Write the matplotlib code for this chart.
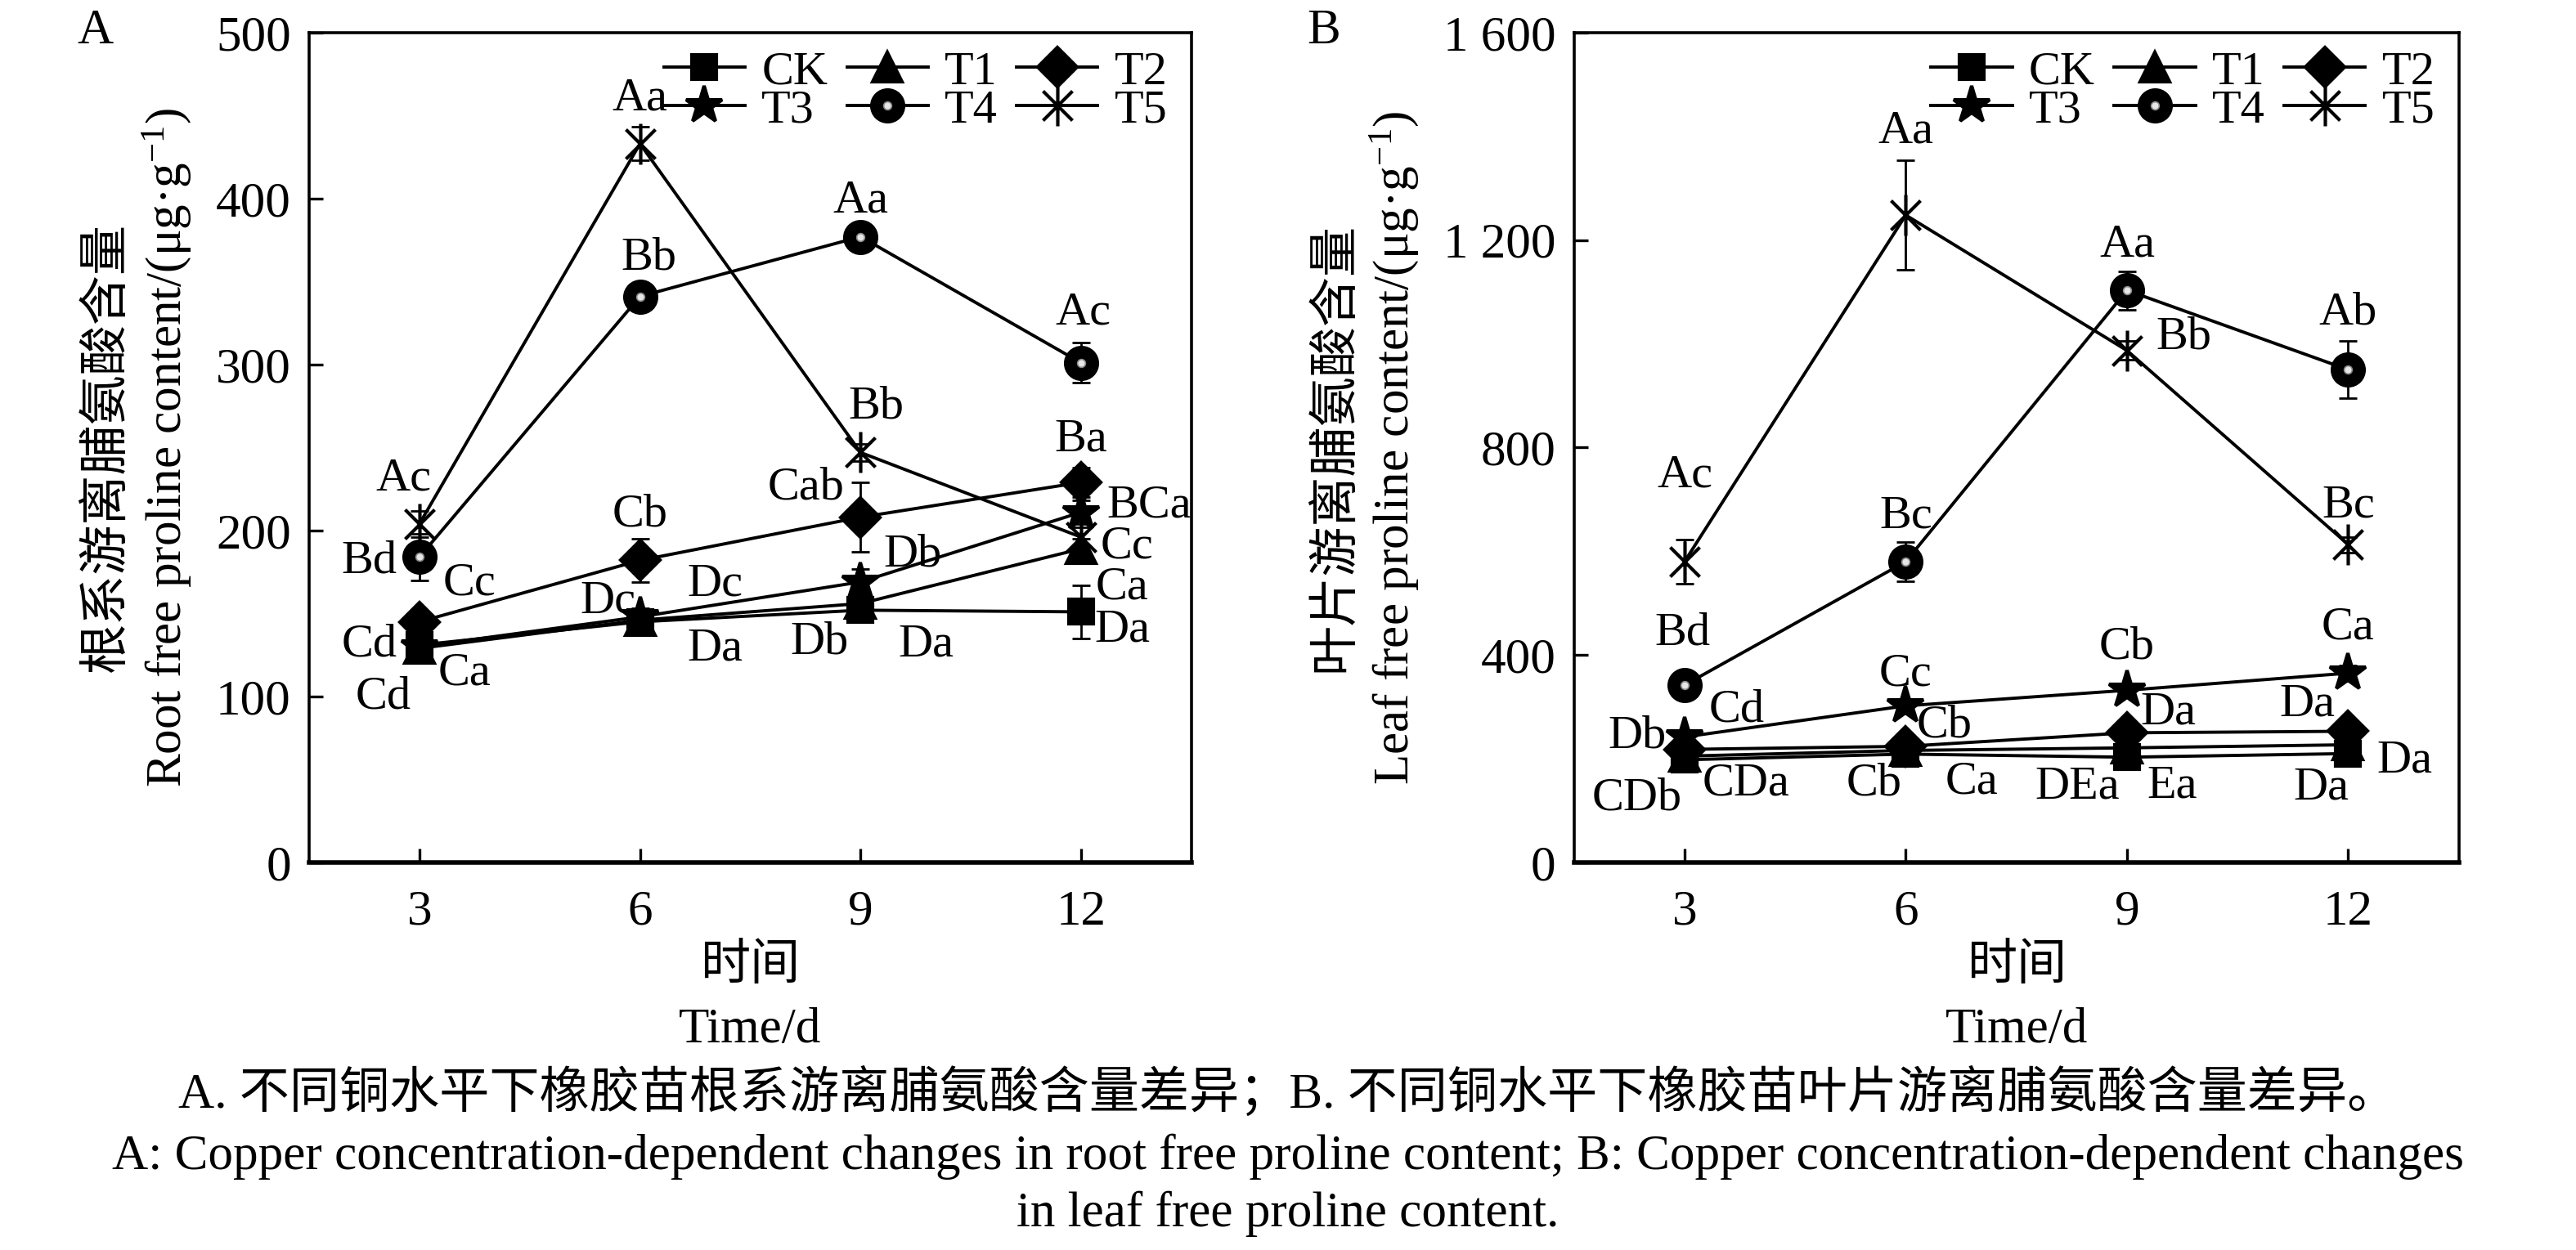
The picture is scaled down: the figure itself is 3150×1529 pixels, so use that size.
import matplotlib
matplotlib.use("Agg")
import matplotlib.pyplot as plt
from matplotlib.ticker import FuncFormatter
from matplotlib.path import Path

plt.rcParams['font.family'] = ['Liberation Serif', 'Noto Sans CJK SC']
plt.rcParams['mathtext.fontset'] = 'custom'
plt.rcParams['mathtext.rm'] = 'Liberation Serif'
plt.rcParams['mathtext.it'] = 'Liberation Serif:italic'
plt.rcParams['axes.unicode_minus'] = False

# data
days = [3, 6, 9, 12]
series = ['CK', 'T1', 'T2', 'T3', 'T4', 'T5']

# A: root free proline (ug/g)
root_ck = [131, 145, 152, 151]
root_t1 = [129, 146, 156, 189]
root_t2 = [145, 182, 208, 229]
root_t3 = [130, 148, 169, 211]
root_t4 = [184, 341, 377, 301]
root_t5 = [204, 433, 247, 196]
root_err_ck = [6, 4, 5, 16]
root_err_t1 = [5, 4, 5, 6]
root_err_t2 = [6, 13, 21, 9]
root_err_t3 = [5, 5, 8, 7]
root_err_t4 = [14, 5, 4, 12]
root_err_t5 = [8, 10, 5, 6]
root_sig_ck = ['Cd', 'Da', 'Db', 'Da']
root_sig_t1 = ['Ca', 'Dc', 'Da', 'Ca']
root_sig_t2 = ['Cc', 'Cb', 'Cab', 'Ba']
root_sig_t3 = ['Cd', 'Dc', 'Db', 'BCa']
root_sig_t4 = ['Bd', 'Bb', 'Aa', 'Ac']
root_sig_t5 = ['Ac', 'Aa', 'Bb', 'Cc']

# B: leaf free proline (ug/g)
leaf_ck = [198, 209, 203, 210]
leaf_t1 = [205, 216, 221, 227]
leaf_t2 = [218, 224, 250, 253]
leaf_t3 = [242, 302, 332, 365]
leaf_t4 = [342, 580, 1103, 950]
leaf_t5 = [580, 1248, 987, 613]
leaf_err_ck = [8, 8, 8, 8]
leaf_err_t1 = [8, 8, 8, 8]
leaf_err_t2 = [10, 10, 12, 12]
leaf_err_t3 = [12, 12, 12, 15]
leaf_err_t4 = [10, 38, 37, 55]
leaf_err_t5 = [42, 105, 18, 15]
leaf_sig_ck = ['CDb', 'Cb', 'DEa', 'Da']
leaf_sig_t1 = ['CDa', 'Ca', 'Ea', 'Da']
leaf_sig_t2 = ['Db', 'Cb', 'Da', 'Da']
leaf_sig_t3 = ['Cd', 'Cc', 'Cb', 'Ca']
leaf_sig_t4 = ['Bd', 'Bc', 'Aa', 'Ab']
leaf_sig_t5 = ['Ac', 'Aa', 'Bb', 'Bc']

# label offsets in points (style)
root_off = {
    'CK': [(-16, -23), (33, -12), (-18, -14), (18, -8)],
    'T1': [(20, -11), (33, 16), (29, -18), (18, -17)],
    'T2': [(22, 17), (0, 20), (-24, 13), (0, 19)],
    'T3': [(-22, 1), (-14, 7), (23, 12), (30, 3)],
    'T4': [(-22, -2), (4, 17), (0, 16), (1, 22)],
    'T5': [(-7, 20), (0, 20), (7, 20), (20, -4)],
}
leaf_off = {
    'CK': [(-21, -17), (-14, -13), (-22, -13), (-12, -15)],
    'T1': [(27, -12), (29, -14), (20, -17), (25, -7)],
    'T2': [(-21, 6), (17, 9), (18, 9), (-18, 12)],
    'T3': [(23, 12), (0, 14), (0, 19), (0, 20)],
    'T4': [(-1, 23), (0, 20), (0, 20), (0, 25)],
    'T5': [(0, 38), (0, 37), (25, 6), (0, 17)],
}

# asterisk: vertical stroke plus two diagonals
star6 = Path([(0, -1), (0, 1), (-0.72, -0.72), (0.72, 0.72), (-0.72, 0.72), (0.72, -0.72)],
             [Path.MOVETO, Path.LINETO] * 3)

markers = {'CK': ('s', 11), 'T1': ('^', 13), 'T2': ('D', 12),
           'T3': ('*', 17), 'T4': ('o', 14), 'T5': (star6, 18)}

FS_TICK = 22
FS_SIG = 21
FS_LAB = 22
FS_LEG = 21
FS_CAP = 22


def draw_panel(ax, vals, errs, sigs, offs, ymax, yticks, ylabel_cn, ylabel_en, fmt):
    handles = {}
    for name in series:
        m, ms = markers[name]
        ax.errorbar(days, vals[name], yerr=errs[name], fmt='none', ecolor='black',
                    elinewidth=1.0, capsize=4, capthick=1.0, zorder=2)
        ln, = ax.plot(days, vals[name], color='black', lw=1.4, marker=m, ms=ms,
                      mfc='black', mec='black', mew=1.5, zorder=3)
        if name == 'T4':
            hl, = ax.plot(days, vals[name], ls='none', marker='o', ms=3.5,
                          mfc='0.9', mec='0.55', mew=0.6, zorder=4)
            handles[name] = (ln, hl)
        else:
            handles[name] = ln
        for i, s in enumerate(sigs[name]):
            ax.annotate(s, (days[i], vals[name][i]), xytext=offs[name][i],
                        textcoords='offset points', ha='center', va='center',
                        fontsize=FS_SIG, zorder=5)
    ax.set_xlim(1.5, 13.5)
    ax.set_ylim(0, ymax)
    ax.set_xticks(days)
    ax.set_yticks(yticks)
    ax.yaxis.set_major_formatter(FuncFormatter(fmt))
    ax.tick_params(direction='in', length=6, width=1.2, labelsize=FS_TICK, pad=8,
                   top=False, right=False)
    ax.tick_params(axis='x', pad=12)
    for sp in ax.spines.values():
        sp.set_linewidth(1.3)
    ax.spines['bottom'].set_linewidth(2.0)
    ax.set_xlabel('时间\nTime/d', fontsize=FS_LAB, linespacing=1.5, labelpad=4)
    ax.set_ylabel(ylabel_cn + '\n' + ylabel_en, fontsize=FS_LAB, linespacing=1.25, labelpad=10)
    order = ['CK', 'T3', 'T1', 'T4', 'T2', 'T5']
    ax.legend([handles[k] for k in order], order, loc='upper right', ncol=3,
              frameon=False, fontsize=FS_LEG, handlelength=1.7, handletextpad=0.35,
              columnspacing=0.4, labelspacing=-0.1, borderaxespad=0.1,
              bbox_to_anchor=(1.0, 1.007))


fig = plt.figure(figsize=(15.75, 7.645), dpi=200)
axA = fig.add_axes([0.12, 0.31, 0.3425, 0.664])
axB = fig.add_axes([0.611, 0.31, 0.3435, 0.664])

root_vals = dict(zip(series, [root_ck, root_t1, root_t2, root_t3, root_t4, root_t5]))
root_errs = dict(zip(series, [root_err_ck, root_err_t1, root_err_t2, root_err_t3, root_err_t4, root_err_t5]))
root_sigs = dict(zip(series, [root_sig_ck, root_sig_t1, root_sig_t2, root_sig_t3, root_sig_t4, root_sig_t5]))
leaf_vals = dict(zip(series, [leaf_ck, leaf_t1, leaf_t2, leaf_t3, leaf_t4, leaf_t5]))
leaf_errs = dict(zip(series, [leaf_err_ck, leaf_err_t1, leaf_err_t2, leaf_err_t3, leaf_err_t4, leaf_err_t5]))
leaf_sigs = dict(zip(series, [leaf_sig_ck, leaf_sig_t1, leaf_sig_t2, leaf_sig_t3, leaf_sig_t4, leaf_sig_t5]))

draw_panel(axA, root_vals, root_errs, root_sigs, root_off, 500, [0, 100, 200, 300, 400, 500],
           '根系游离脯氨酸含量', r'Root free proline content/(μg·g$^{-1}$)',
           lambda v, p: '%d' % v)
draw_panel(axB, leaf_vals, leaf_errs, leaf_sigs, leaf_off, 1600, [0, 400, 800, 1200, 1600],
           '叶片游离脯氨酸含量', r'Leaf free proline content/(μg·g$^{-1}$)',
           lambda v, p: ('%d' % v) if v < 1000 else ('%d %03d' % (v // 1000, v % 1000)))

fig.text(0.037, 0.975, 'A', fontsize=FS_LAB, va='center', ha='center')
fig.text(0.514, 0.975, 'B', fontsize=FS_LAB, va='center', ha='center')

fig.text(0.5, 0.126, 'A. 不同铜水平下橡胶苗根系游离脯氨酸含量差异；B. 不同铜水平下橡胶苗叶片游离脯氨酸含量差异。',
         fontsize=FS_CAP, ha='center', va='center')
fig.text(0.5, 0.075, 'A: Copper concentration-dependent changes in root free proline content; B: Copper concentration-dependent changes',
         fontsize=FS_CAP, ha='center', va='center')
fig.text(0.5, 0.029, 'in leaf free proline content.', fontsize=FS_CAP, ha='center', va='center')

fig.savefig('out.png', dpi=200)
